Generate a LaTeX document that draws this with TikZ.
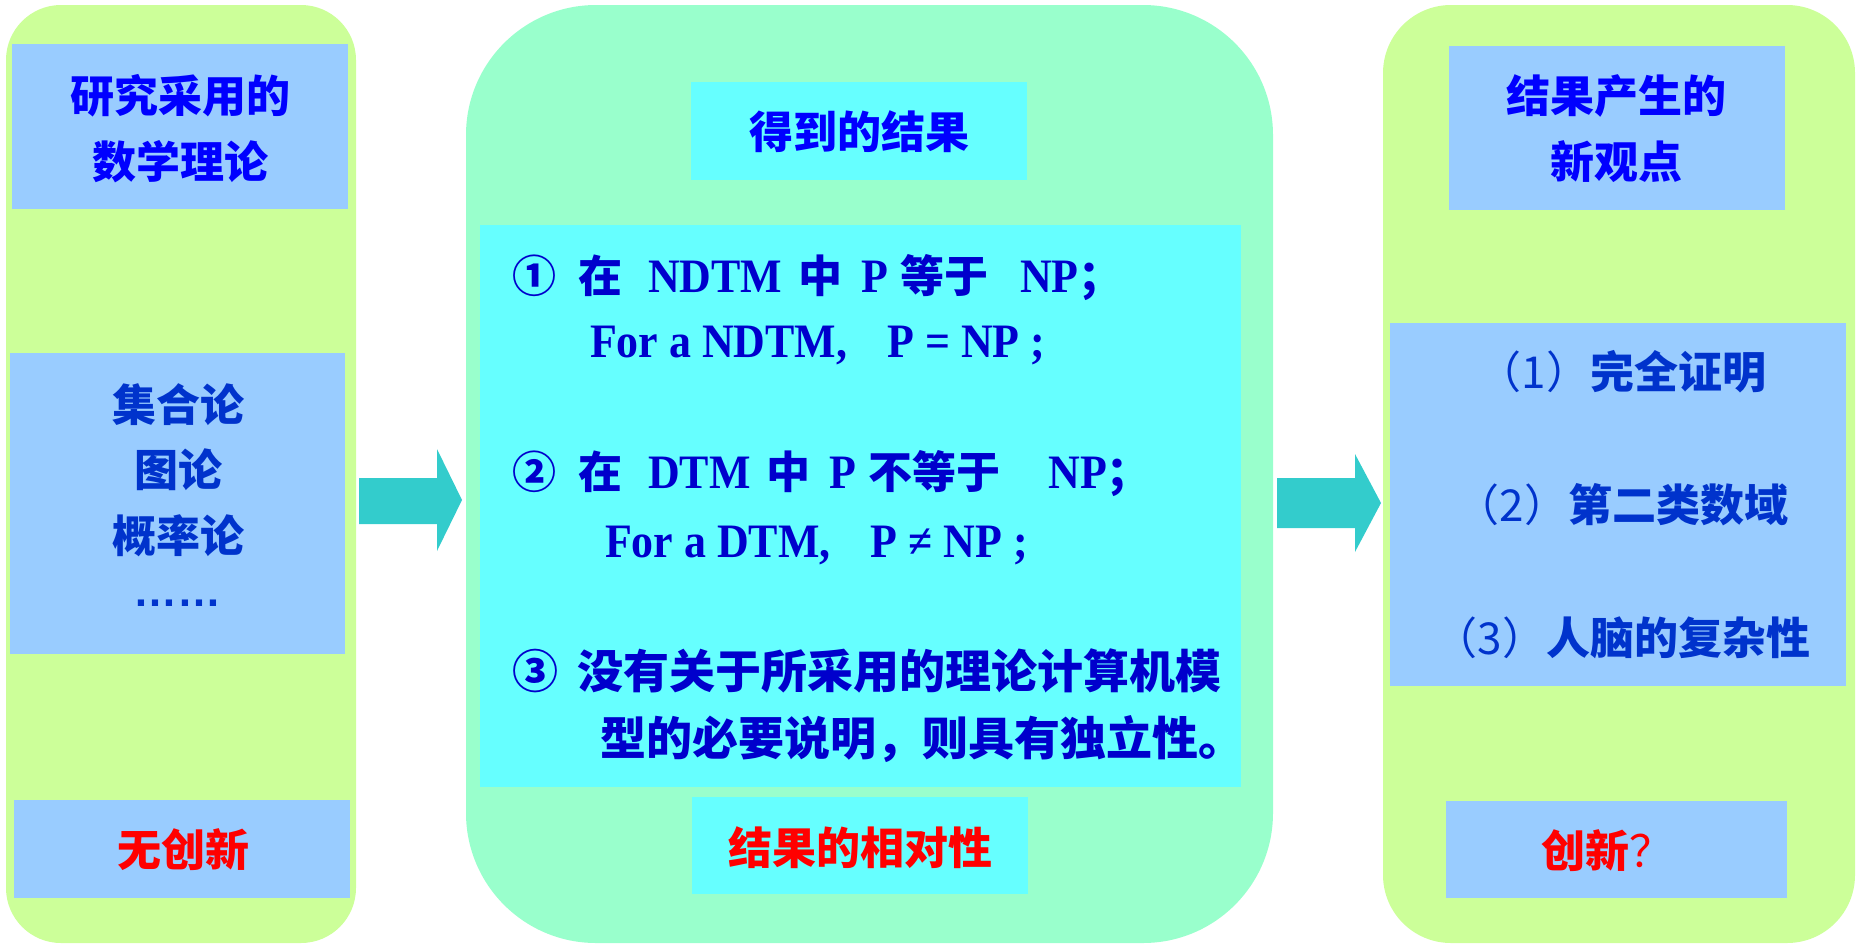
\documentclass[tikz,border=0pt]{standalone}
\usepackage{fontspec}
\setmainfont{Liberation Serif}[FakeStretch=0.915]
\newfontfamily\cjk{Noto Sans CJK SC}
\newfontfamily\dotfont{Liberation Sans}
\newcommand\zh[1]{{\cjk\bfseries #1}}
\newcommand\zr[1]{{\cjk #1}}
\newcommand\fsz[1]{\fontsize{#1}{#1}\selectfont}
\definecolor{panelG}{HTML}{CCFF99}
\definecolor{panelM}{HTML}{99FFCC}
\definecolor{boxB}{HTML}{99CCFF}
\definecolor{boxC}{HTML}{66FFFF}
\definecolor{arrowc}{HTML}{33CCCC}
\definecolor{blueA}{HTML}{0000FF}
\definecolor{blueB}{HTML}{0033CC}
\definecolor{navy}{HTML}{0000CC}
\definecolor{redA}{HTML}{FF0000}
\begin{document}
\begin{tikzpicture}[x=1pt,y=-1pt,
  panel/.style={draw=none,inner sep=0pt,outer sep=0pt,minimum height=938pt},
  boxx/.style={draw=none,inner sep=0pt,outer sep=0pt},
  txt/.style={inner sep=0pt,outer sep=0pt,anchor=base},
  txtw/.style={inner sep=0pt,outer sep=0pt,anchor=base west},
  blockarrow/.style={fill=arrowc,draw=none}]
\useasboundingbox (0,0) rectangle (1858,946);
% panels
\node[panel,fill=panelG,rounded corners=55pt,minimum width=350pt] (lp) at (181,474) {};
\node[panel,fill=panelM,rounded corners=130pt,minimum width=807pt] (mp) at (869.5,474) {};
\node[panel,fill=panelG,rounded corners=68pt,minimum width=472pt] (rp) at (1619,474) {};
% left boxes
\node[boxx,fill=boxB,minimum width=336pt,minimum height=165pt] (ltb) at (180,126.5) {};
\node[boxx,fill=boxB,minimum width=335pt,minimum height=301pt] (lmb) at (177.5,503.5) {};
\node[boxx,fill=boxB,minimum width=336pt,minimum height=98pt] (lbb) at (182,849) {};
% middle boxes
\node[boxx,fill=boxC,minimum width=336pt,minimum height=98pt] (mtb) at (859,131) {};
\node[boxx,fill=boxC,minimum width=761pt,minimum height=562pt] (mmb) at (860.5,506) {};
\node[boxx,fill=boxC,minimum width=336pt,minimum height=97pt] (mbb) at (860,845.5) {};
% right boxes
\node[boxx,fill=boxB,minimum width=336pt,minimum height=164pt] (rtb) at (1617,128) {};
\node[boxx,fill=boxB,minimum width=456pt,minimum height=363pt] (rmb) at (1618,504.5) {};
\node[boxx,fill=boxB,minimum width=341pt,minimum height=97pt] (rbb) at (1616.5,849.5) {};
% block arrows
\path[blockarrow] (359,478) -- (437,478) -- (437,449) -- (462,500) -- (437,551) -- (437,524) -- (359,524) -- cycle;
\path[blockarrow] (1277,478) -- (1355,478) -- (1355,454) -- (1381,503) -- (1355,552) -- (1355,528) -- (1277,528) -- cycle;
% left texts
\node[txt,text=blueA] (lt1) at (180,112) {\fsz{44}\zh{研究采用的}};
\node[txt,text=blueA] (lt2) at (180,178) {\fsz{44}\zh{数学理论}};
\node[txt,text=blueB] (lm1) at (178,421) {\fsz{44}\zh{集合论}};
\node[txt,text=blueB] (lm2) at (178,486) {\fsz{44}\zh{图论}};
\node[txt,text=blueB] (lm3) at (178,552) {\fsz{44}\zh{概率论}};
\node[txt,text=blueB] (lm4) at (177,606) {\fsz{44}\dotfont\bfseries ……};
\node[txt,text=redA] (lb1) at (183,866) {\fsz{44}\zh{无创新}};
% middle texts
\node[txt,text=blueA] (mt1) at (859,148) {\fsz{44}\zh{得到的结果}};
\node[txtw,text=navy] (mm1) at (512,292) {\fsz{48}\bfseries\zh{\fsz{44}①}\hspace{22pt}\zh{\fsz{44}在}\hspace{26pt}NDTM\hspace{16pt}\zh{\fsz{44}中}\hspace{19pt}P\hspace{12pt}\zh{\fsz{44}等于}\hspace{32pt}NP\zh{\fsz{44}；}};
\node[txtw,text=navy] (mm2) at (590,357) {\fsz{48}\bfseries For a NDTM,\hspace{40pt}P = NP ;};
\node[txtw,text=navy] (mm3) at (512,488) {\fsz{48}\bfseries\zh{\fsz{44}②}\hspace{22pt}\zh{\fsz{44}在}\hspace{26pt}DTM\hspace{16pt}\zh{\fsz{44}中}\hspace{19pt}P\hspace{12pt}\zh{\fsz{44}不等于}\hspace{48pt}NP\zh{\fsz{44}；}};
\node[txtw,text=navy] (mm4) at (605,557) {\fsz{48}\bfseries For a DTM,\hspace{40pt}P ≠ NP ;};
\node[txtw,text=navy] (mm5) at (512,688) {\fsz{46}\zh{③}\hspace{20pt}\zh{没有关于所采用的理论计算机模}};
\node[txtw,text=navy] (mm6) at (600,755) {\fsz{46}\zh{型的必要说明，则具有独立性。}};
\node[txt,text=redA] (mb1) at (860,864) {\fsz{44}\zh{结果的相对性}};
% right texts
\node[txt,text=blueA] (rt1) at (1616,112) {\fsz{44}\zh{结果产生的}};
\node[txt,text=blueA] (rt2) at (1616,178) {\fsz{44}\zh{新观点}};
\node[txt,text=blueB] (rm1) at (1622,388) {\fsz{44}\zr{（1）}\zh{完全证明}};
\node[txt,text=blueB] (rm2) at (1622,521) {\fsz{44}\zr{（2）}\zh{第二类数域}};
\node[txt,text=blueB] (rm3) at (1622,654) {\fsz{44}\zr{（3）}\zh{人脑的复杂性}};
\node[txt,text=redA] (rb1) at (1607,867) {\fsz{44}\zh{创新}\zr{？}};
\end{tikzpicture}
\end{document}
